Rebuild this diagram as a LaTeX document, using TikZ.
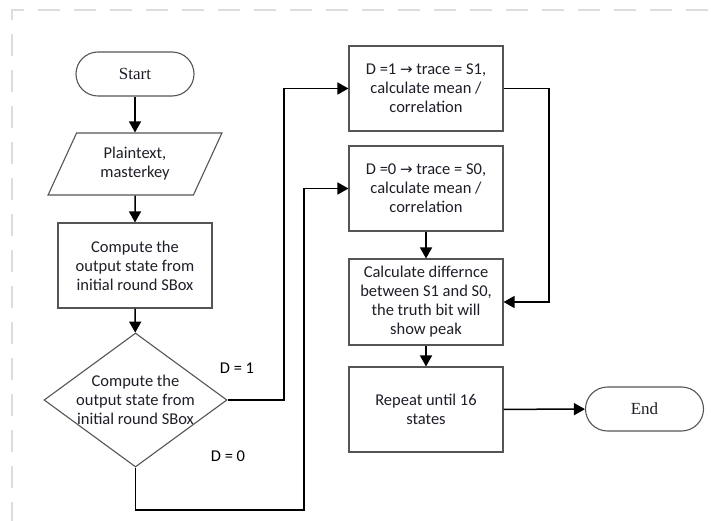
\documentclass[tikz,border=0pt]{standalone}
\usepackage{fontspec}
\setmainfont{Carlito}
\newfontfamily\serifstyle{Liberation Serif}
\newfontfamily\dejavu{DejaVu Sans}
\usetikzlibrary{shapes.geometric,arrows.meta}
\definecolor{bord}{HTML}{555555}
\definecolor{frame}{HTML}{DDDDDD}
\definecolor{txt}{HTML}{1E1E28}
\begin{document}
\begin{tikzpicture}[x=1pt,y=-1pt,
  every node/.style={font=\fontsize{16.5}{19}\selectfont, text=txt},
  procbox/.style={draw=bord, line width=1.1pt, fill=white, minimum width=154pt, minimum height=85pt, align=center, inner sep=0pt},
  term/.style={draw=bord, line width=1.1pt, fill=white, rounded corners=22pt, minimum width=118pt, minimum height=44pt, inner sep=0pt, font=\serifstyle\fontsize{17}{19}\selectfont},
  conn/.style={line width=1.5pt, draw=black, -{Triangle[length=11pt,width=12pt]}},
  lbl/.style={font=\fontsize{16.5}{19}\selectfont, text=black}]
\useasboundingbox (0,0) rectangle (711,521);
\fill[white] (0,0) rectangle (711,521);
\draw[frame, line width=2pt, dash pattern=on 22pt off 14pt] (12,560) -- (12,10) -- (760,10);

\node[term] (start) at (135,74) {Start};
\node[trapezium, trapezium left angle=63, trapezium right angle=117, trapezium stretches=true,
      minimum width=174pt, minimum height=62pt, draw=bord, line width=1.1pt, inner sep=0pt, align=center] (plain) at (135,164) {Plaintext,\\masterkey};
\node[procbox] (comp) at (135,265.5) {Compute the\\output state from\\initial round SBox};
\node[diamond, draw=bord, line width=1.1pt, minimum width=183pt, minimum height=134pt, inner sep=0pt] (dec) at (135.5,400) {};
\node[align=center, inner sep=0pt] (dectext) at (dec.center) {Compute the\\output state from\\initial round SBox};

\node[procbox] (box1) at (426,88.5) {D =1 {\dejavu\fontsize{15}{19}\selectfont →} trace = S1,\\calculate mean /\\correlation};
\node[procbox] (box2) at (426,188.5) {D =0 {\dejavu\fontsize{15}{19}\selectfont →} trace = S0,\\calculate mean /\\correlation};
\node[procbox, minimum height=86pt] (box3) at (426,302) {Calculate differnce\\between S1 and S0,\\the truth bit will\\show peak};
\node[procbox] (box4) at (426,409.5) {Repeat until 16\\states};
\node[term] (end) at (644.5,409) {End};

\node[lbl] (d1) at (237,368) {D = 1};
\node[lbl] (d0) at (228,456) {D = 0};

\draw[conn] (start) -- (plain);
\draw[conn] (plain) -- (comp);
\draw[conn] (comp) -- (dec);
\draw[conn] (dec.east) -| (284,88.5) -- (box1.west);
\draw[conn] (dec.south) |- (304,510) -- (304,188.5) -- (box2.west);
\draw[conn] (box1.east) -| (549,302) -- (box3.east);
\draw[conn] (box2) -- (box3);
\draw[conn] (box3) -- (box4);
\draw[conn] (box4) -- (end);
\end{tikzpicture}
\end{document}
